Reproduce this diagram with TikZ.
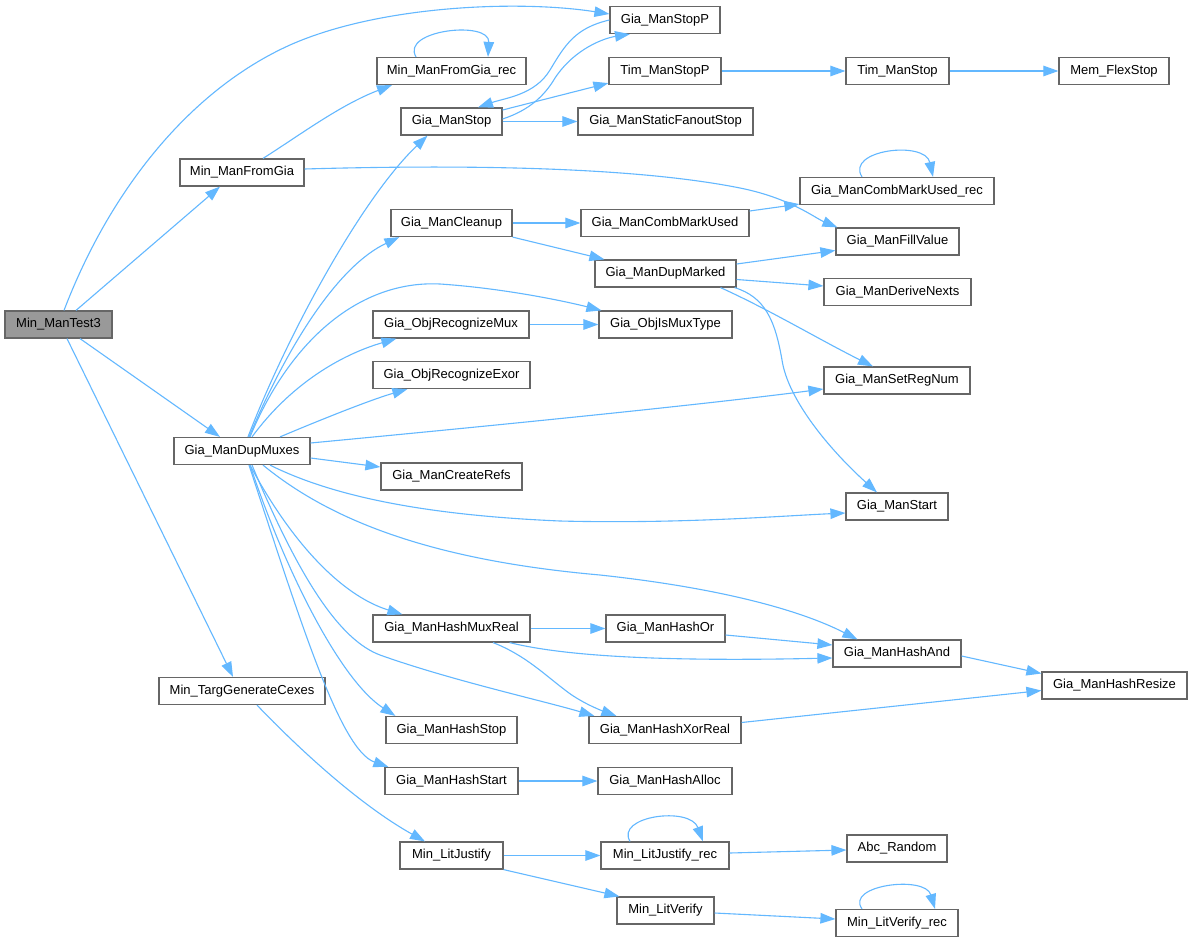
\documentclass[tikz,border=0pt]{standalone}
\usepackage{fontspec}
\setmainfont{Liberation Sans}
\usetikzlibrary{arrows.meta,calc}
\definecolor{edgeblue}{HTML}{63B8FF}
\definecolor{boxgray}{HTML}{666666}
\definecolor{rootgray}{HTML}{999999}
\tikzset{
  box/.style={draw=boxgray,line width=1.2pt,fill=white,minimum height=27pt,inner sep=0pt,
    font=\fontsize{13}{15}\selectfont,text=black},
  rootbox/.style={box,fill=rootgray},
  edge/.style={draw=edgeblue,line width=1.1pt,-{Triangle[length=15pt,width=10.5pt]}},
}
\begin{document}
\begin{tikzpicture}[x=1pt,y=-1pt]
\useasboundingbox[fill=white] (0,0) rectangle (1193,942);

% nodes
\node[rootbox,minimum width=107pt] (root) at (58.5,324.5) {Min\_ManTest3};
\node[box,minimum width=124pt] (mfg) at (242,172.5) {Min\_ManFromGia};
\node[box,minimum width=136pt] (dup) at (242,451) {Gia\_ManDupMuxes};
\node[box,minimum width=166pt] (tgc) at (242,691) {Min\_TargGenerateCexes};
\node[box,minimum width=110pt] (stopP) at (665,20) {Gia\_ManStopP};
\node[box,minimum width=149pt] (mfgr) at (451.5,71) {Min\_ManFromGia\_rec};
\node[box,minimum width=112pt] (timP) at (665,71) {Tim\_ManStopP};
\node[box,minimum width=101pt] (stop) at (451.5,121.5) {Gia\_ManStop};
\node[box,minimum width=175pt] (sfs) at (665.5,121.5) {Gia\_ManStaticFanoutStop};
\node[box,minimum width=121pt] (clean) at (451.5,223) {Gia\_ManCleanup};
\node[box,minimum width=168pt] (cmu) at (665,223) {Gia\_ManCombMarkUsed};
\node[box,minimum width=141pt] (dmk) at (665.5,273.5) {Gia\_ManDupMarked};
\node[box,minimum width=103pt] (tim) at (897.5,71) {Tim\_ManStop};
\node[box,minimum width=110pt] (mem) at (1114,71) {Mem\_FlexStop};
\node[box,minimum width=194pt] (cmur) at (897,191) {Gia\_ManCombMarkUsed\_rec};
\node[box,minimum width=123pt] (fill) at (897.5,241.5) {Gia\_ManFillValue};
\node[box,minimum width=147pt] (dn) at (897.5,292) {Gia\_ManDeriveNexts};
\node[box,minimum width=156pt] (orm) at (451,324.5) {Gia\_ObjRecognizeMux};
\node[box,minimum width=133pt] (imt) at (665.5,324.5) {Gia\_ObjIsMuxType};
\node[box,minimum width=157pt] (ore) at (451.5,375) {Gia\_ObjRecognizeExor};
\node[box,minimum width=141pt] (cr) at (451.5,476.5) {Gia\_ManCreateRefs};
\node[box,minimum width=146pt] (srn) at (897,380.5) {Gia\_ManSetRegNum};
\node[box,minimum width=102pt] (start) at (897,506.5) {Gia\_ManStart};
\node[box,minimum width=157pt] (hmr) at (451.5,628.5) {Gia\_ManHashMuxReal};
\node[box,minimum width=119pt] (hor) at (665.5,628.5) {Gia\_ManHashOr};
\node[box,minimum width=128pt] (hand) at (897,653.5) {Gia\_ManHashAnd};
\node[box,minimum width=145pt] (hres) at (1114.5,685.5) {Gia\_ManHashResize};
\node[box,minimum width=131pt] (hstop) at (451.5,730) {Gia\_ManHashStop};
\node[box,minimum width=152pt] (hxr) at (665,730) {Gia\_ManHashXorReal};
\node[box,minimum width=133pt] (hstart) at (451.5,781) {Gia\_ManHashStart};
\node[box,minimum width=134pt] (halloc) at (665,781) {Gia\_ManHashAlloc};
\node[box,minimum width=103pt] (lj) at (451.5,855.5) {Min\_LitJustify};
\node[box,minimum width=128pt] (ljr) at (665,855.5) {Min\_LitJustify\_rec};
\node[box,minimum width=100pt] (rnd) at (897,848.5) {Abc\_Random};
\node[box,minimum width=97pt] (lv) at (665.5,910.5) {Min\_LitVerify};
\node[box,minimum width=122pt] (lvr) at (897,923) {Min\_LitVerify\_rec};

% edges from root
\draw[edge] ($(root.north)+(5.5,0)$) .. controls (110,190) and (190,90) .. (290,45)
  .. controls (380,5) and (520,0) .. ($(stopP.west)+(0,-6)$);
\draw[edge] ($(root.north)+(17.5,0)$) -- ($(mfg.south)+(-22,0)$);
\draw[edge] ($(root.south)+(21.5,0)$) -- ($(dup.north)+(-22,0)$);
\draw[edge] ($(root.south)+(8.5,0)$) -- ($(tgc.north)+(-9,0)$);

% Min_ManFromGia
\draw[edge] ($(mfg.north)+(21,0)$) .. controls (300,135) and (340,105) .. ($(mfgr.south)+(-59.5,0)$);
\draw[edge] ($(mfg.east)+(0,-3.5)$) .. controls (480,164) and (640,168) .. (740,188)
  .. controls (790,198) and (815,218) .. ($(fill.north west)+(2,0)$);
\draw[edge] ($(mfgr.north)+(-35.5,0)$) .. controls (400,30) and (490,20) .. ($(mfgr.north)+(36.5,0)$);

% Gia_ManStop / Gia_ManStopP
\draw[edge] (stopP.west) .. controls (575,28) and (565,45) .. (550,70)
  .. controls (535,95) and (505,98) .. ($(stop.north)+(26.5,0)$);
\draw[edge] ($(stop.east)+(0,-2.5)$) .. controls (530,110) and (545,95) .. (555,78)
  .. controls (575,48) and (605,38) .. ($(stopP.south)+(-35,0)$);
\draw[edge] ($(stop.east)+(0,-11.5)$) -- ($(timP.south west)+(0,-2)$);
\draw[edge] (stop.east) -- (sfs.west);
\draw[edge] (timP.east) -- (tim.west);
\draw[edge] (tim.east) -- (mem.west);

% Gia_ManDupMuxes
\draw[edge] ($(dup.north)+(6,0)$) .. controls (285,340) and (360,200) .. ($(stop.south)+(-24,0)$);
\draw[edge] ($(dup.north)+(7,0)$) .. controls (290,340) and (340,265) .. ($(clean.south west)+(9,0)$);
\draw[edge] ($(dup.north)+(8,0)$) .. controls (290,340) and (360,280) .. (440,284)
  .. controls (500,288) and (560,300) .. ($(imt.north west)+(3,0)$);
\draw[edge] ($(dup.north)+(10,0)$) .. controls (290,385) and (340,355) .. ($(orm.south west)+(24,0)$);
\draw[edge] ($(dup.north)+(38,0)$) .. controls (320,420) and (370,400) .. ($(ore.south west)+(35,0)$);
\draw[edge] ($(dup.east)+(0,-8)$) .. controls (500,425) and (700,405) .. ($(srn.west)+(0,8.5)$);
\draw[edge] ($(dup.east)+(0,7)$) -- ($(cr.west)+(0,-9.5)$);
\draw[edge] ($(dup.south)+(28,0)$) .. controls (330,495) and (420,515) .. (560,521)
  .. controls (680,524) and (780,516) .. ($(start.west)+(0,6.5)$);
\draw[edge] ($(dup.south)+(21,0)$) .. controls (330,520) and (430,560) .. (600,575)
  .. controls (720,588) and (800,610) .. ($(hand.north west)+(25,0)$);
\draw[edge] ($(dup.south)+(8,0)$) .. controls (290,540) and (340,595) .. ($(hmr.north west)+(30,0)$);
\draw[edge] ($(dup.south)+(10,0)$) .. controls (300,580) and (340,640) .. (380,655)
  .. controls (450,680) and (540,700) .. ($(hxr.north west)+(6,0)$);
\draw[edge] ($(dup.south)+(8,0)$) .. controls (285,570) and (340,680) .. ($(hstop.north west)+(10,0)$);
\draw[edge] ($(dup.south)+(7,0)$) .. controls (300,620) and (340,750) .. ($(hstart.north west)+(4,0)$);

% Gia_ManCleanup
\draw[edge] (clean.east) -- (cmu.west);
\draw[edge] (clean.south east) -- ($(dmk.north west)+(10,0)$);
\draw[edge] ($(cmu.east)+(0,-12)$) -- ($(cmur.south west)+(0,-1)$);
\draw[edge] ($(cmur.north)+(-35,0)$) .. controls (845,150) and (925,140) .. ($(cmur.north)+(36,0)$);
\draw[edge] ($(dmk.east)+(0,-9.5)$) -- ($(fill.west)+(0,9)$);
\draw[edge] ($(dmk.east)+(0,6)$) -- ($(dn.west)+(0,-6)$);
\draw[edge] ($(dmk.south)+(55,0)$) .. controls (770,310) and (820,340) .. ($(srn.north)+(-24,0)$);
\draw[edge] ($(dmk.south east)+(-2,0)$) .. controls (765,297) and (775,320) .. (782,360)
  .. controls (788,400) and (830,450) .. ($(start.north)+(-20,0)$);

% others
\draw[edge] (orm.east) -- (imt.west);
\draw[edge] (hmr.east) -- (hor.west);
\draw[edge] ($(hmr.south east)+(-21,0)$) .. controls (560,655) and (650,662) .. ($(hand.west)+(0,4.5)$);
\draw[edge] ($(hmr.south)+(41.5,0)$) .. controls (525,655) and (545,675) .. (565,690)
  .. controls (580,702) and (600,710) .. ($(hxr.north west)+(28,0)$);
\draw[edge] ($(hor.east)+(0,6.5)$) -- ($(hand.west)+(0,-8.5)$);
\draw[edge] ($(hand.east)+(0,2.5)$) -- ($(hres.west)+(0,-12)$);
\draw[edge] ($(hxr.east)+(0,-7.5)$) -- ($(hres.west)+(0,5)$);
\draw[edge] (hstart.east) -- (halloc.west);
\draw[edge] ($(tgc.south)+(15,0)$) .. controls (300,750) and (360,805) .. ($(lj.north)+(-26.5,0)$);
\draw[edge] (lj.east) -- (ljr.west);
\draw[edge] (lj.south east) -- ($(lv.north west)+(3,0)$);
\draw[edge] ($(ljr.north)+(-35,0)$) .. controls (615,816) and (690,806) .. ($(ljr.north)+(38,0)$);
\draw[edge] ($(ljr.east)+(0,-2.5)$) -- ($(rnd.west)+(0,1.5)$);
\draw[edge] ($(lv.east)+(0,2.5)$) -- ($(lvr.west)+(0,-4)$);
\draw[edge] ($(lvr.north)+(-35,0)$) .. controls (845,885) and (925,875) .. ($(lvr.north)+(38,0)$);
\end{tikzpicture}
\end{document}
